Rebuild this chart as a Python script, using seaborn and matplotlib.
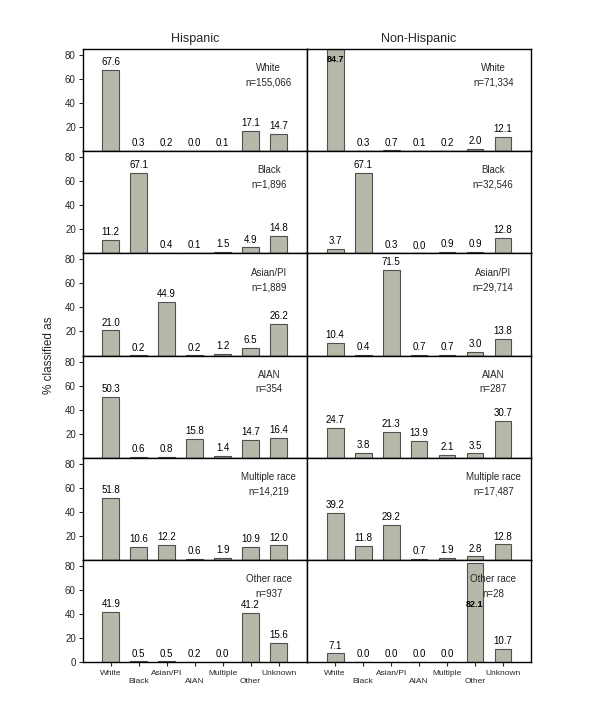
import pandas as pd
import matplotlib
matplotlib.use('Agg')
import matplotlib.pyplot as plt
import seaborn as sns

# data
categories = ['White', 'Black', 'Asian/PI', 'AIAN', 'Multiple', 'Other', 'Unknown']
groups = ['White', 'Black', 'Asian/PI', 'AIAN', 'Multiple race', 'Other race']

hisp_n = ['155,066', '1,896', '1,889', '354', '14,219', '937']
hisp_white = [67.6, 0.3, 0.2, 0.0, 0.1, 17.1, 14.7]
hisp_black = [11.2, 67.1, 0.4, 0.1, 1.5, 4.9, 14.8]
hisp_asian = [21.0, 0.2, 44.9, 0.2, 1.2, 6.5, 26.2]
hisp_aian = [50.3, 0.6, 0.8, 15.8, 1.4, 14.7, 16.4]
hisp_multi = [51.8, 10.6, 12.2, 0.6, 1.9, 10.9, 12.0]
hisp_other = [41.9, 0.5, 0.5, 0.2, 0.0, 41.2, 15.6]

nonhisp_n = ['71,334', '32,546', '29,714', '287', '17,487', '28']
nonhisp_white = [84.7, 0.3, 0.7, 0.1, 0.2, 2.0, 12.1]
nonhisp_black = [3.7, 67.1, 0.3, 0.0, 0.9, 0.9, 12.8]
nonhisp_asian = [10.4, 0.4, 71.5, 0.7, 0.7, 3.0, 13.8]
nonhisp_aian = [24.7, 3.8, 21.3, 13.9, 2.1, 3.5, 30.7]
nonhisp_multi = [39.2, 11.8, 29.2, 0.7, 1.9, 2.8, 12.8]
nonhisp_other = [7.1, 0.0, 0.0, 0.0, 0.0, 82.1, 10.7]

hisp = [hisp_white, hisp_black, hisp_asian, hisp_aian, hisp_multi, hisp_other]
nonhisp = [nonhisp_white, nonhisp_black, nonhisp_asian, nonhisp_aian, nonhisp_multi, nonhisp_other]

sns.set_style('ticks')
plt.rcParams['font.family'] = ['Liberation Sans', 'DejaVu Sans']

fig = plt.figure(figsize=(6, 7.21), dpi=100)

bar_color = '#b8b8aa'
edge_color = '#505050'
top, bottom = 0.932, 0.0818
ph = (top - bottom) / 6
lefts = [0.138, 0.512]
pw = 0.373

tick_labels = [c if i % 2 == 0 else '\n' + c for i, c in enumerate(categories)]

for col, (series, ns) in enumerate([(hisp, hisp_n), (nonhisp, nonhisp_n)]):
    for row in range(6):
        ax = fig.add_axes([lefts[col], top - (row + 1) * ph, pw, ph])
        df = pd.DataFrame({'cat': categories, 'pct': series[row]})
        sns.barplot(data=df, x='cat', y='pct', order=categories, color=bar_color,
                    edgecolor=edge_color, linewidth=0.8, width=0.6, saturation=1, ax=ax)
        ax.set_xlim(-1, 7)
        ax.set_ylim(0, 85)
        ax.set_xlabel('')
        ax.set_ylabel('')
        for sp in ax.spines.values():
            sp.set_visible(True)
            sp.set_color('black')
            sp.set_linewidth(1.0)

        for i, v in enumerate(series[row]):
            if v > 80:
                y = 76 if v > 84 else 48
                ax.text(i, y, f'{v:.1f}', ha='center', va='center', fontsize=6.5,
                        fontweight='bold', color='black')
            else:
                ax.annotate(f'{v:.1f}', (i, v), xytext=(0, 2), textcoords='offset points',
                            ha='center', va='bottom', fontsize=7, color='black')

        ax.text(5.65, 69, groups[row], ha='center', va='center', fontsize=7)
        ax.text(5.65, 57, 'n=' + ns[row], ha='center', va='center', fontsize=7)

        if col == 0:
            if row == 5:
                ax.set_yticks([0, 20, 40, 60, 80])
            else:
                ax.set_yticks([20, 40, 60, 80])
            ax.tick_params(axis='y', labelsize=7, length=3, width=0.8, pad=2)
        else:
            ax.set_yticks([])

        if row == 5:
            ax.set_xticks(range(7))
            ax.set_xticklabels(tick_labels, fontsize=6)
            ax.tick_params(axis='x', length=3, width=0.8, pad=3)
        else:
            ax.set_xticks([])

        if row == 0:
            ax.set_title('Hispanic' if col == 0 else 'Non-Hispanic', fontsize=9, pad=5)

fig.text(0.082, (top + bottom) / 2, '% classified as', rotation=90, ha='center',
         va='center', fontsize=8.5)

plt.savefig('out.png', dpi=100)
